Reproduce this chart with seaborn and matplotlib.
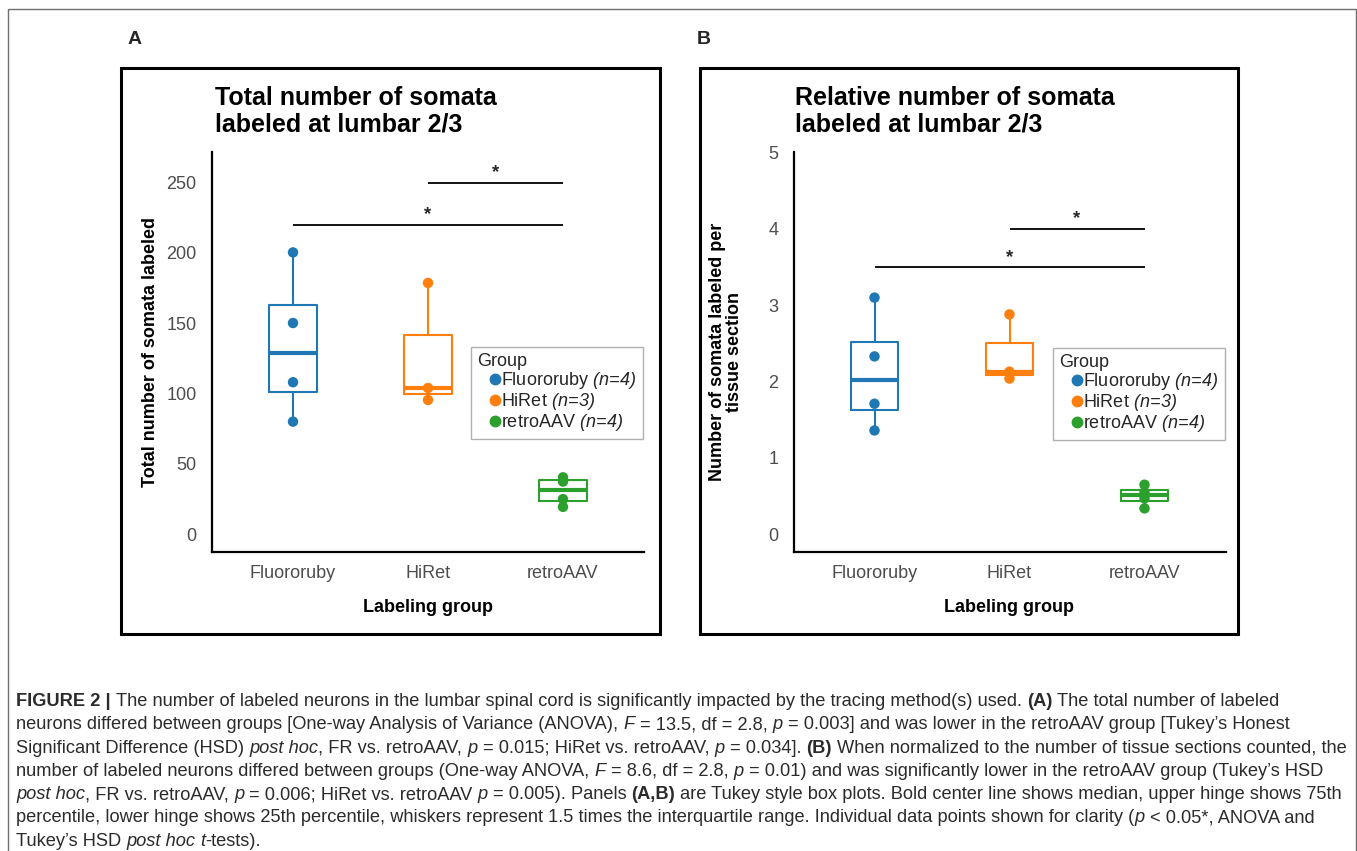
import matplotlib
matplotlib.use("Agg")
import matplotlib.pyplot as plt
import matplotlib.patches as mpatches
from matplotlib.lines import Line2D
from matplotlib.font_manager import FontProperties
import seaborn as sns
import pandas as pd

# ---------------- data ----------------
groups = ["Fluororuby", "HiRet", "retroAAV"]
group_n = [4, 3, 4]
colors = ["#1f77b4", "#ff7f0e", "#2ca02c"]

total_fluororuby = [200.4, 150.2, 108.1, 80.1]
total_hiret = [178.7, 104.0, 95.5]
total_retroaav = [40.5, 37.5, 25.0, 19.5]

rel_fluororuby = [3.10, 2.33, 1.71, 1.36]
rel_hiret = [2.88, 2.13, 2.04]
rel_retroaav = [0.65, 0.55, 0.47, 0.34]

# significance comparisons: (group index from, group index to, height)
sig_total = [(0, 2, 220), (1, 2, 250)]
sig_rel = [(0, 2, 3.5), (1, 2, 4.0)]

yticks_total = [0, 50, 100, 150, 200, 250]
yticks_rel = [0, 1, 2, 3, 4, 5]

title_total = ["Total number of somata", "labeled at lumbar 2/3"]
title_rel = ["Relative number of somata", "labeled at lumbar 2/3"]
ylabel_total = "Total number of somata labeled"
ylabel_rel = "Number of somata labeled per\ntissue section"
xlabel = "Labeling group"

caption = [
    [("FIGURE 2 |", "b"), (" The number of labeled neurons in the lumbar spinal cord is significantly impacted by the tracing method(s) used. ", "n"), ("(A)", "b"), (" The total number of labeled", "n")],
    [("neurons differed between groups [One-way Analysis of Variance (ANOVA), ", "n"), ("F", "i"), (" = 13.5, df = 2.8, ", "n"), ("p", "i"), (" = 0.003] and was lower in the retroAAV group [Tukey\u2019s Honest", "n")],
    [("Significant Difference (HSD) ", "n"), ("post hoc", "i"), (", FR vs. retroAAV, ", "n"), ("p", "i"), (" = 0.015; HiRet vs. retroAAV, ", "n"), ("p", "i"), (" = 0.034]. ", "n"), ("(B)", "b"), (" When normalized to the number of tissue sections counted, the", "n")],
    [("number of labeled neurons differed between groups (One-way ANOVA, ", "n"), ("F", "i"), (" = 8.6, df = 2.8, ", "n"), ("p", "i"), (" = 0.01) and was significantly lower in the retroAAV group (Tukey\u2019s HSD", "n")],
    [("post hoc", "i"), (", FR vs. retroAAV, ", "n"), ("p", "i"), (" = 0.006; HiRet vs. retroAAV ", "n"), ("p", "i"), (" = 0.005). Panels ", "n"), ("(A,B)", "b"), (" are Tukey style box plots. Bold center line shows median, upper hinge shows 75th", "n")],
    [("percentile, lower hinge shows 25th percentile, whiskers represent 1.5 times the interquartile range. Individual data points shown for clarity (", "n"), ("p", "i"), (" < 0.05*, ANOVA and", "n")],
    [("Tukey\u2019s HSD ", "n"), ("post hoc", "i"), (" ", "n"), ("t", "i"), ("-tests).", "n")],
]

# ---------------- style ----------------
sns.set_style("white")
FONT = "Liberation Sans"
plt.rcParams["font.family"] = [FONT, "DejaVu Sans"]
plt.rcParams["mathtext.fontset"] = "custom"
plt.rcParams["mathtext.rm"] = FONT + ":italic"
plt.rcParams["mathtext.it"] = FONT + ":italic"
plt.rcParams["mathtext.bf"] = FONT + ":bold"

W, H = 1357, 851
fig = plt.figure(figsize=(W / 100, H / 100), dpi=100)
fig.patch.set_facecolor("white")


def fx(px):
    return px / W


def fy(py):
    return 1 - py / H


def make_df(a, b, c):
    return pd.DataFrame({
        "group": [groups[0]] * len(a) + [groups[1]] * len(b) + [groups[2]] * len(c),
        "value": list(a) + list(b) + list(c),
    })


AX_TOP, AX_BOT = 151.7, 552.3
AX_W = 432.0


def panel(ax, df, ylim, yticks, sig, ylabel, ylabel_x, leg_anchor):
    pal = dict(zip(groups, colors))
    sns.boxplot(data=df, x="group", y="value", hue="group", order=groups,
                hue_order=groups, palette=pal, fill=False, width=0.35,
                showcaps=False, showfliers=False, linewidth=1.5, whis=1.5,
                medianprops=dict(linewidth=3.0), legend=False, ax=ax)
    sns.stripplot(data=df, x="group", y="value", hue="group", order=groups,
                  hue_order=groups, palette=pal, jitter=False, size=7.5,
                  legend=False, ax=ax, zorder=5)
    ax.set_xlim(-0.6, 2.6)
    ax.set_ylim(*ylim)
    ax.set_yticks(yticks)
    ax.set_yticklabels([str(t) for t in yticks])
    for s in ["top", "right"]:
        ax.spines[s].set_visible(False)
    for s in ["left", "bottom"]:
        ax.spines[s].set_linewidth(1.6)
        ax.spines[s].set_color("black")
    ax.tick_params(axis="both", length=5, width=1.3, color="#333333",
                   labelcolor="#4d4d4d", labelsize=13)
    ax.tick_params(axis="y", pad=6)
    ax.tick_params(axis="x", pad=4)
    ax.set_facecolor("none")

    for a, b, y in sig:
        ax.plot([a, b], [y, y], color="black", lw=1.3, solid_capstyle="butt")
        ax.annotate("*", xy=((a + b) / 2, y), xytext=(0, 1), textcoords="offset points",
                    ha="center", va="bottom", fontsize=13.5, fontweight="bold")

    ax.set_xlabel(xlabel, fontsize=13, fontweight="bold", color="black")
    ax.xaxis.set_label_coords(0.5, (AX_BOT - 607.4) / (AX_BOT - AX_TOP))
    ax.xaxis.label.set_va("center")
    ax.set_ylabel(ylabel, fontsize=13, fontweight="bold", color="black", linespacing=1.0)
    ax.yaxis.set_label_coords(ylabel_x, 0.5)
    ax.yaxis.label.set_va("center")

    handles = [Line2D([0], [0], marker="o", linestyle="", markersize=7.5,
                      markerfacecolor=c, markeredgecolor=c) for c in colors]
    labels = [rf"{g} $\mathit{{(n\!=\!{n})}}$" for g, n in zip(groups, group_n)]
    leg = ax.legend(handles, labels, title="Group", loc="upper left",
                    bbox_to_anchor=leg_anchor, bbox_transform=fig.transFigure,
                    frameon=True, fancybox=False, edgecolor="#b0b0b0", framealpha=1,
                    fontsize=13, title_fontsize=13, handlelength=2.03,
                    handletextpad=-0.71, labelspacing=0.0, borderpad=0.35,
                    borderaxespad=0, alignment="left")
    leg.get_frame().set_linewidth(1.0)


axA = fig.add_axes([fx(212), fy(AX_BOT), AX_W / W, (AX_BOT - AX_TOP) / H])
axB = fig.add_axes([fx(793.5), fy(AX_BOT), AX_W / W, (AX_BOT - AX_TOP) / H])

panel(axA, make_df(total_fluororuby, total_hiret, total_retroaav), (-12.8, 272),
      yticks_total, sig_total, ylabel_total, (150 - 212) / AX_W, (fx(470.7), fy(346.7)))
panel(axB, make_df(rel_fluororuby, rel_hiret, rel_retroaav), (-0.235, 5.01),
      yticks_rel, sig_rel, ylabel_rel, (725.8 - 793.5) / AX_W, (fx(1052.6), fy(347.5)))

# titles
for lines, x0 in [(title_total, 214.5), (title_rel, 794.5)]:
    for line, yb in zip(lines, [105.0, 131.7]):
        fig.text(fx(x0), fy(yb), line, fontsize=18, fontweight="bold",
                 ha="left", va="baseline", color="black")

# panel letters
fig.text(fx(134.5), fy(40), "A", fontsize=14, fontweight="bold", ha="center", va="center")
fig.text(fx(704), fy(40), "B", fontsize=14, fontweight="bold", ha="center", va="center")

# panel frames and outer frame
for x0, x1 in [(121, 660), (700, 1238)]:
    fig.add_artist(mpatches.Rectangle((fx(x0), fy(634)), (x1 - x0) / W, (634 - 68) / H,
                                      transform=fig.transFigure, fill=False,
                                      edgecolor="black", lw=2.2))
fig.add_artist(mpatches.Rectangle((fx(8), fy(871)), (1355.5 - 8) / W, (871 - 9) / H,
                                  transform=fig.transFigure, fill=False,
                                  edgecolor="#6f6f6f", lw=1.0))

# caption with mixed styles
fig.canvas.draw()
renderer = fig.canvas.get_renderer()


def props(style, size):
    if style == "b":
        return FontProperties(family=FONT, weight="bold", size=size)
    if style == "i":
        return FontProperties(family=FONT, style="italic", size=size)
    return FontProperties(family=FONT, size=size)


def text_width(s, fp):
    w1 = renderer.get_text_width_height_descent("|" + s + "|", fp, ismath=False)[0]
    w2 = renderer.get_text_width_height_descent("||", fp, ismath=False)[0]
    return w1 - w2


def line_width(runs, size):
    return sum(text_width(t, props(st, size)) for t, st in runs)


ref_size = 10.0
fits = [(0, 1290), (2, 1341), (4, 1341)]
scales = [(right - 16) / line_width(caption[i], ref_size) for i, right in fits]
cap_size = ref_size * sum(scales) / len(scales)

baselines = [706, 729.3, 752.6, 775.9, 799.2, 822.5, 845.8]
for runs, yb in zip(caption, baselines):
    x = 16.0
    for t, st in runs:
        fp = props(st, cap_size)
        stripped = t.lstrip(" ")
        lead = t[: len(t) - len(stripped)]
        if lead:
            x += text_width(lead, fp)
        fig.text(fx(x), fy(yb), stripped, fontproperties=fp, ha="left",
                 va="baseline", color="#2b2b2b")
        x += text_width(stripped, fp)

fig.savefig("out.png", dpi=100)
